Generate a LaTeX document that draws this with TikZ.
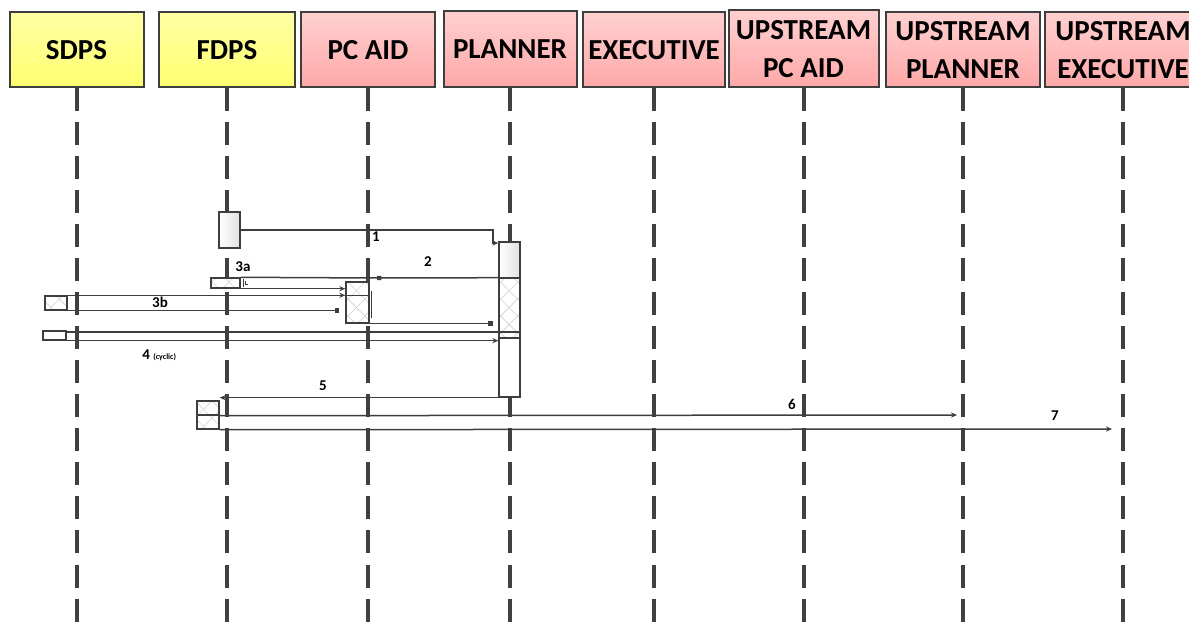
\documentclass[tikz,border=0pt]{standalone}
\usepackage{fontspec}
\setmainfont{Carlito}
\usetikzlibrary{
    arrows.meta,
    patterns.meta
}
\definecolor{yelTop}{RGB}{255,255,165}
\definecolor{yelBot}{RGB}{255,255,112}
\definecolor{pinkTop}{RGB}{255,208,208}
\definecolor{pinkBot}{RGB}{255,168,168}
\definecolor{edge}{RGB}{62,62,62}
\tikzset{
    % --- Actor box at the top of a lifeline ---
    actor/.style = {
        rectangle, draw=edge, line width=1pt,
        anchor=south, inner sep=0pt, align=center,
        minimum height=37.75pt,
        font=\fontsize{14.5}{19}\selectfont\bfseries
    },
    % --- Yellow (data processing) actor ---
    dps actor/.style = {
        actor, top color=yelTop, bottom color=yelBot
    },
    % --- Pink (control) actor ---
    ctl actor/.style = {
        actor, top color=pinkTop, bottom color=pinkBot
    },
    % --- Dashed lifeline ---
    lifeline/.style = {
        draw=black!75, line width=2pt,
        dash pattern=on 11.5pt off 5.5pt
    },
    % --- Activation bar (plain) ---
    act/.style = {
        rectangle, draw=edge, line width=0.7pt,
        inner sep=0pt, left color=white, right color=black!12
    },
    % --- Activation bar (cross hatched) ---
    act hatch/.style = {
        rectangle, draw=edge, line width=0.7pt, inner sep=0pt,
        preaction={fill=white},
        preaction={pattern={Lines[angle=45,distance=6pt,line width=0.3pt]},
            pattern color=black!18},
        pattern={Lines[angle=-45,distance=6pt,line width=0.3pt]},
        pattern color=black!18
    },
    % --- Message arrow ---
    msg/.style = {
        draw=edge, line width=0.75pt,
        -{Stealth[length=3pt,width=2.6pt]}
    },
    % --- Message ending in a small square ---
    msg sq/.style = {
        draw=edge, line width=0.75pt,
        -{Square[length=2.2pt,width=2.2pt]}
    },
    % --- Plain wire ---
    wire/.style = {
        draw=edge, line width=0.75pt
    },
    % --- Message number ---
    msg label/.style = {
        font=\fontsize{7.5}{9}\selectfont\bfseries, inner sep=0pt
    }
}

\begin{document}
\begin{tikzpicture}[x=0.5pt, y=-0.5pt]

\useasboundingbox (0,0) rectangle (1189,630);
\clip (0,0) rectangle (1189,630);

% ---------------------------------------------------------
% Actors
% ---------------------------------------------------------
\node[dps actor, minimum width=67pt] (SDPS) at (76.5, 88.5) {SDPS};
\node[dps actor, minimum width=68pt] (FDPS) at (227, 88.5) {FDPS};
\node[ctl actor, minimum width=67pt] (PcAid) at (368, 88.5) {PC AID};
\node[ctl actor, minimum width=66.5pt, minimum height=38.25pt] (Planner) at (510, 88.5) {PLANNER};
\node[ctl actor, minimum width=70.75pt] (Exec) at (654, 88.5) {EXECUTIVE};
\node[ctl actor, minimum width=75pt, minimum height=38.75pt] (UpPcAid) at (803.5, 88.5) {UPSTREAM\\PC AID};
\node[ctl actor, minimum width=77pt] (UpPlanner) at (963, 88.5) {UPSTREAM\\PLANNER};
\node[ctl actor, minimum width=78.5pt] (UpExec) at (1123, 88.5) {UPSTREAM\\EXECUTIVE};

% ---------------------------------------------------------
% Lifelines
% ---------------------------------------------------------
\coordinate (Bottom) at (0, 632);
\draw[lifeline] (SDPS.south) -- (SDPS.south |- Bottom);
\draw[lifeline] (FDPS.south) -- (FDPS.south |- Bottom);
\draw[lifeline] (PcAid.south) -- (PcAid.south |- Bottom);
\draw[lifeline] (Planner.south) -- (Planner.south |- Bottom);
\draw[lifeline] (Exec.south) -- (Exec.south |- Bottom);
\draw[lifeline] (UpPcAid.south) -- (UpPcAid.south |- Bottom);
\draw[lifeline] (UpPlanner.south) -- (UpPlanner.south |- Bottom);
\draw[lifeline] (UpExec.south) -- (UpExec.south |- Bottom);

% ---------------------------------------------------------
% Activation bars
% ---------------------------------------------------------
\node[act, minimum width=10.5pt, minimum height=18pt] (FdpsAct) at (229.5, 230) {};
\node[act, minimum width=10.5pt, minimum height=18pt] (PlanTop) at (509.5, 260) {};
\node[act hatch, minimum width=10.5pt, minimum height=30pt] (PlanMid) at (509.5, 308) {};
\node[act, minimum width=10.5pt, minimum height=29.5pt, left color=white, right color=white] (PlanLow) at (509.5, 367.5) {};
\node[act hatch, minimum width=14.5pt, minimum height=5pt] (Box3a) at (225.5, 283) {};
\node[act hatch, minimum width=11.5pt, minimum height=20.5pt] (PcAct) at (357.5, 302.5) {};
\node[act hatch, minimum width=11pt, minimum height=7pt] (Box3b) at (56, 303) {};
\node[act, minimum width=11.5pt, minimum height=4.5pt, left color=white, right color=white] (Box4) at (54.5, 335.5) {};
\node[act hatch, minimum width=11pt, minimum height=7pt] (FdpsUp) at (208, 408) {};
\node[act hatch, minimum width=11pt, minimum height=7pt] (FdpsLow) at (208, 422) {};

% ---------------------------------------------------------
% Message 1
% ---------------------------------------------------------
\coordinate (Bend1) at (493, 243);
\draw[msg] (FdpsAct.east) -| (Bend1) -- (PlanTop.south west |- Bend1);
\node[msg label] at (376, 237) {1};

% ---------------------------------------------------------
% Message 2
% ---------------------------------------------------------
\coordinate (Hit2) at (377, 278);
\draw[msg sq] (PlanMid.north west) -- (Hit2);
\draw[wire] (Hit2) -- (Box3a.north east);
\node[msg label] at (428, 262) {2};

% ---------------------------------------------------------
% Message 3a / 3b
% ---------------------------------------------------------
\draw[msg] (Box3a.south east) -- (Box3a.south east -| PcAct.west);
\draw[wire, line width=0.5pt] (243, 279) -- (243, 287);
\draw[wire, line width=0.5pt] (245, 281) |- (248, 285);
\node[msg label] at (243, 267) {3a};

\draw[msg] (Box3b.north east) -- (Box3b.north east -| PcAct.west);
\draw[wire] (Box3b.north east -| PcAct.west) -- (Box3b.north east -| PcAct.east);
\draw[msg sq] (Box3b.south east) -- ([xshift=-3pt]Box3b.south east -| PcAct.west);
\draw[wire] ([xshift=1pt]PcAct.east |- 0,291) -- ([xshift=1pt]PcAct.east |- 0,318);
\node[msg label] at (160, 302) {3b};

% ---------------------------------------------------------
% Message 4 (cyclic)
% ---------------------------------------------------------
\draw[msg sq] (PcAct.south east) -- ([xshift=-3pt]PcAct.south east -| PlanMid.west);
\draw[wire] ([yshift=-0.75pt]Box4.north east) -- ([yshift=-0.75pt]Box4.north east -| PlanMid.east);
\draw[msg] (Box4.south east) -- (Box4.south east -| PlanLow.west);
\node[msg label, anchor=west] at (142, 355) {4 {\fontsize{4}{5}\selectfont(cyclic)}};

% ---------------------------------------------------------
% Message 5
% ---------------------------------------------------------
\draw[msg] (PlanLow.south east) -- (PlanLow.south east -| FdpsUp.east);
\node[msg label] at (323, 386) {5};

% ---------------------------------------------------------
% Messages 6 and 7
% ---------------------------------------------------------
\coordinate (End6) at (957, 415);
\coordinate (End7) at (1112, 429);
\draw[msg] (FdpsUp.south east) -- (End6);
\draw[msg] (FdpsLow.south east) -- (End7);
\node[msg label] at (792, 404) {6};
\node[msg label] at (1055, 416) {7};

\end{tikzpicture}
\end{document}
